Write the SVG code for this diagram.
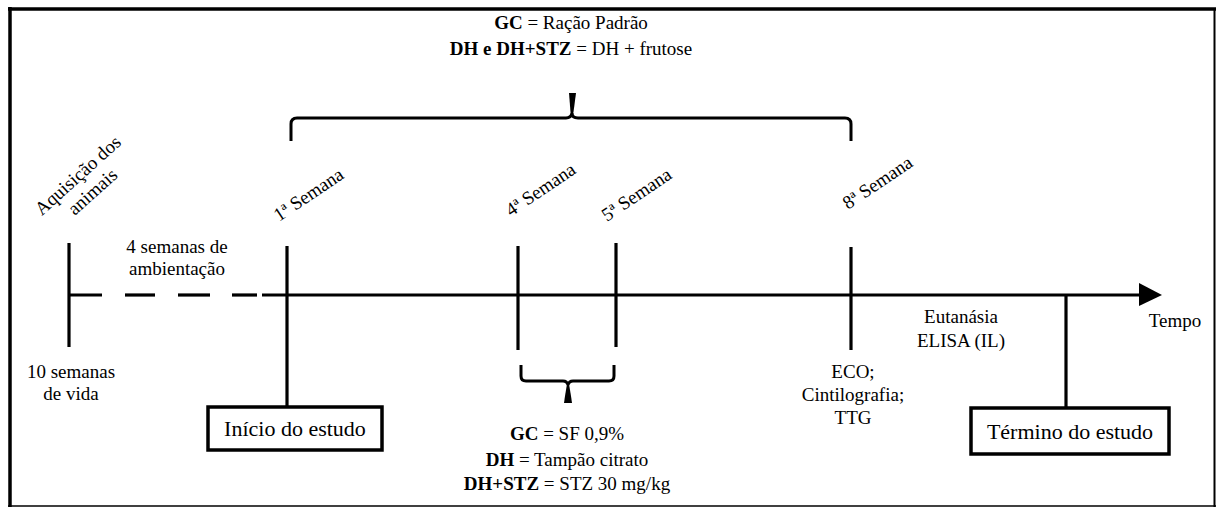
<svg xmlns="http://www.w3.org/2000/svg" width="1216" height="507" viewBox="0 0 1216 507">
<style>
text{font-family:'Liberation Serif','Times New Roman',serif;font-size:19px;fill:#000}
.b{font-weight:bold}
.box{font-size:22px}
.tick{stroke:#000;stroke-width:3.2;fill:none}
.frame{stroke:#000;fill:none}
.br{stroke:#000;stroke-width:3;fill:none}
</style>
<defs>
<marker id="arr" markerUnits="userSpaceOnUse" markerWidth="24" markerHeight="24" refX="0" refY="12" orient="auto">
<path d="M0,0 L23,12 L0,23 Z" fill="#000"/>
</marker>
</defs>
<g id="frame">
<line class="frame" x1="8" y1="9" x2="1216" y2="9" stroke-width="3.5"/>
<line class="frame" x1="10" y1="7" x2="10" y2="507" stroke-width="3.5"/>
<line class="frame" x1="1214.5" y1="8" x2="1214.5" y2="507" stroke-width="2"/>
<line class="frame" x1="8" y1="506" x2="1216" y2="506" stroke-width="1.5" stroke="#444"/>
</g>
<g id="connectors">
<line class="tick" x1="262" y1="295" x2="1139" y2="295" marker-end="url(#arr)"/>
<line class="tick" x1="69" y1="295" x2="102" y2="295"/>
<line class="tick" x1="125" y1="295" x2="155" y2="295"/>
<line class="tick" x1="178" y1="295" x2="210" y2="295"/>
<line class="tick" x1="232" y1="295" x2="257" y2="295"/>
</g>
<g id="node-aquisicao">
<line class="tick" x1="69" y1="243" x2="69" y2="347"/>
<text text-anchor="middle" transform="translate(82,180) rotate(-42)"><tspan x="0" y="0">Aquisição dos</tspan><tspan x="0" y="22">animais</tspan></text>
<text text-anchor="middle" x="71" y="378">10 semanas</text>
<text text-anchor="middle" x="71" y="400">de vida</text>
</g>
<g id="node-ambientacao">
<text text-anchor="middle" x="177" y="253">4 semanas de</text>
<text text-anchor="middle" x="177" y="275">ambientação</text>
</g>
<g id="node-semana1">
<line class="tick" x1="287" y1="246" x2="287" y2="406"/>
<text transform="translate(279,222) rotate(-34)">1ª Semana</text>
</g>
<g id="node-inicio">
<rect x="208" y="407" width="174" height="43" fill="#fff" stroke="#000" stroke-width="3.5"/>
<text class="box" text-anchor="middle" x="295" y="436">Início do estudo</text>
</g>
<g id="node-semana4">
<line class="tick" x1="518" y1="246" x2="518" y2="350"/>
<text transform="translate(511,217) rotate(-34)">4ª Semana</text>
</g>
<g id="node-semana5">
<line class="tick" x1="616" y1="243" x2="616" y2="347"/>
<text transform="translate(607,222) rotate(-34)">5ª Semana</text>
</g>
<g id="node-semana8">
<line class="tick" x1="851" y1="247" x2="851" y2="350"/>
<text transform="translate(848,210) rotate(-34)">8ª Semana</text>
<text text-anchor="middle" x="853" y="378">ECO;</text>
<text text-anchor="middle" x="853" y="401">Cintilografia;</text>
<text text-anchor="middle" x="853" y="424">TTG</text>
</g>
<g id="node-eutanasia">
<text text-anchor="middle" x="961" y="323">Eutanásia</text>
<text text-anchor="middle" x="961" y="347">ELISA (IL)</text>
</g>
<g id="node-termino">
<line class="tick" x1="1066" y1="295" x2="1066" y2="408"/>
<rect x="971" y="408" width="198" height="46" fill="#fff" stroke="#000" stroke-width="3.5"/>
<text class="box" text-anchor="middle" x="1070" y="439">Término do estudo</text>
</g>
<g id="node-tempo">
<text text-anchor="middle" x="1175" y="327">Tempo</text>
</g>
<g id="node-dieta">
<path class="br" d="M291,141 L291,124 Q291,118 297,118 L566,118 Q571,118 572,113 Q572,118 578,118 L845,118 Q851,118 851,124 L851,141"/>
<path d="M569,93 L576,93 L573.5,112 L572,118 L570.5,112 Z" fill="#000"/>
<text text-anchor="middle" x="571" y="29"><tspan class="b">GC</tspan> = Ração Padrão</text>
<text text-anchor="middle" x="571" y="55"><tspan class="b">DH e DH+STZ</tspan> = DH + frutose</text>
</g>
<g id="node-injecao">
<path class="br" d="M521,365 L521,376 Q521,381 526,381 L563,381 Q567,381 568,385 Q569,381 573,381 L609,381 Q614,381 614,376 L614,365"/>
<path d="M567,384 L569,384 L571,396 L572,403 L564,403 L565,396 Z" fill="#000"/>
<text text-anchor="middle" x="567" y="440"><tspan class="b">GC</tspan> = SF 0,9%</text>
<text text-anchor="middle" x="567" y="466"><tspan class="b">DH</tspan> = Tampão citrato</text>
<text text-anchor="middle" x="567" y="490"><tspan class="b">DH+STZ</tspan> = STZ 30 mg/kg</text>
</g>
</svg>
